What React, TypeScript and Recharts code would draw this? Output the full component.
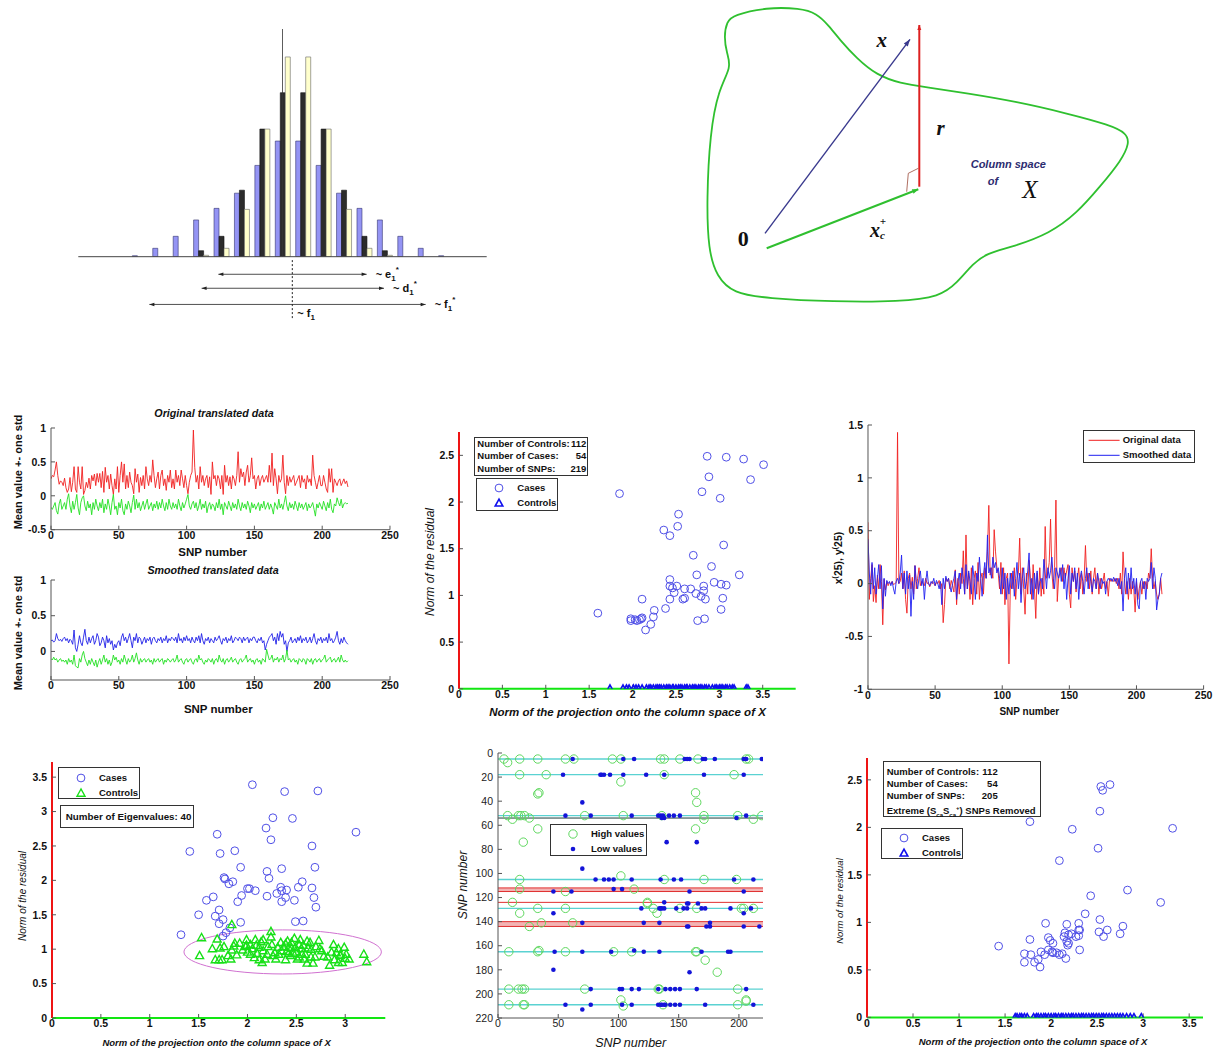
import React from 'react'
import {
  BarChart, Bar, ComposedChart, LineChart, Line, ScatterChart, Scatter,
  XAxis, YAxis, ReferenceLine, ReferenceDot, ReferenceArea,
} from 'recharts'

const FONT = '"Liberation Sans", Arial, Helvetica, sans-serif'
const SERIF = '"Liberation Serif", "DejaVu Serif", Times, serif'

// ---------------- histogram (top left) ----------------
const binIdx = [0, 1, 2, 3, 4, 5, 6, 7, 8, 9, 10, 11, 12, 13, 14, 15, 16, 17, 18, 19, 20]
const blueBars = [0, 0, 0, 0.5, 4.2, 10.2, 18.4, 24.2, 31.8, 45.7, 57.9, 57.9, 45.7, 31.8, 24.2, 18.4, 10.2, 4.2, 0.5, 0, 0]
const blackBars = [0, 0, 0, 0, 0, 0, 3, 10.2, 33.3, 63.9, 82.1, 82.1, 63.9, 33.3, 10.2, 3, 0, 0, 0, 0, 0]
const yellowBars = [0, 0, 0, 0, 0, 0, 0.7, 4.2, 23.7, 63.9, 100, 100, 63.9, 23.7, 4.2, 0.7, 0, 0, 0, 0, 0]
// spans drawn under the axis (bin units, level below zero)
const spanNames = ['e', 'd', 'f']
const spanFrom = [6.86, 6.04, 3.48]
const spanTo = [14.12, 14.97, 17.01]
const spanLevel = [-8.8, -15.8, -23.9]
const centreBin = 10.48

// ---------------- projection diagram (top right) ----------------
const blobX = [33.3, 66.7, 100, 116.7, 128.3, 140, 156.7, 176.7, 200, 226.7, 266.7, 316.7, 366.7, 410, 426.7, 429.3, 421.7, 400, 376.7, 350, 313.3, 286.7, 273.3, 256.7, 240, 200, 133.3, 66.7, 33.3, 16.7, 8.3, 6.7, 10, 18.3, 31.7, 26.7, 24, 26.7]
const blobY = [15, 7.3, 8.3, 13.3, 25, 40, 58.3, 75, 83.3, 87.3, 93.3, 101.7, 113.3, 125, 133.3, 143.3, 160, 186.7, 213.3, 233.3, 246.7, 253.3, 263.3, 283.3, 296.7, 301.7, 301.7, 298.3, 293.3, 276.7, 250, 200, 133.3, 90, 66.7, 53.3, 36.7, 21.7]
const vecX = [[65, 233.3], [210, 39.3]]
const vecR = [[219.3, 186.7], [219.3, 25]]
const vecXc = [[66.7, 248.3], [218.3, 189.3]]
const rightAngle = [[206.7, 191.7], [208.3, 173.3], [218.3, 168.3]]

// ---------------- translated data (middle left) ----------------
const a1Upper = [0.25, 0.3, 0.28, 0.38, 0.5, 0.3, 0.17, 0.22, 0.2, 0.15,
  0.26, 0.12, 0.05, 0.1, 0.27, 0.06, 0.2, 0.43, 0.1, 0.05,
  0.43, 0.2, 0.1, 0.43, 0.02, 0.08, 0.2, 0.12, 0.26, 0.1,
  0.3, 0.22, 0.32, 0.15, 0.33, 0.2, 0.33, 0.12, 0.36, 0.05,
  0.42, 0.2, 0.3, 0.1, 0.32, 0.15, 0.02, 0.25, 0.1, 0.43,
  0.05, 0.3, 0.5, 0.2, 0.47, 0.1, 0.3, 0.12, 0.35, 0.2,
  0.15, 0.03, 0.4, 0.2, 0.32, 0.05, 0.27, 0.15, 0.3, 0.1,
  0.43, 0.25, 0.15, 0.3, 0.2, 0.53, 0.3, 0.12, 0.25, 0.35,
  0.1, 0.3, 0.38, 0.15, 0.25, 0.08, 0.3, 0.2, 0.38, 0.12,
  0.25, 0.1, 0.38, 0.2, 0.3, 0.15, 0.38, 0.25, 0.12, 0.3,
  0.15, 0.03, 0.2, 0.3, 0.35, 0.97, 0.42, 0.2, 0.3, 0.1,
  0.43, 0.2, 0.3, 0.15, 0.25, 0.3, 0.12, 0.28, 0.02, 0.5,
  0.25, 0.3, 0.15, 0.3, 0.25, 0.1, 0.3, 0.02, 0.45, 0.2,
  0.3, 0.15, 0.28, 0.1, 0.3, 0.25, 0.15, 0.3, 0.65, 0.2,
  0.4, 0.28, 0.35, 0.15, 0.35, 0.45, 0.2, 0.3, 0.56, 0.25,
  0.3, 0.1, 0.25, 0.3, 0.15, 0.25, 0.3, 0.2, 0.25, 0.3,
  0.2, 0.45, 0.2, 0.63, 0.15, 0.4, 0.25, 0.03, 0.3, 0.2,
  0.25, 0.6, 0.2, 0.03, 0.3, 0.15, 0.28, 0.2, 0.25, 0.3,
  0.15, 0.2, 0.25, 0.3, 0.12, 0.3, 0.2, 0.25, 0.1, 0.3,
  0.2, 0.25, 0.15, 0.6, 0.3, 0.2, 0.1, 0.2, 0.3, 0.15,
  0.15, 0.3, 0.2, 0.1, 0.05, 0.4, 0.2, 0.4, 0.05, 0.25,
  0.2, 0.15, 0.22, 0.25, 0.15, 0.2, 0.25, 0.18, 0.22, 0.13]
const a1Lower = [-0.17, -0.2, -0.15, -0.1, -0.22, -0.27, -0.12, -0.05, -0.2, -0.15,
  -0.1, -0.2, -0.05, 0.03, -0.15, -0.25, -0.08, -0.2, -0.1, 0.02,
  -0.18, -0.28, -0.1, -0.03, 0, -0.15, -0.22, -0.08, -0.18, -0.12,
  -0.28, -0.1, -0.2, -0.05, -0.15, -0.22, -0.1, -0.18, -0.05, -0.25,
  -0.12, -0.2, -0.05, -0.15, -0.28, -0.1, 0.02, -0.2, -0.15, -0.28,
  -0.1, -0.18, -0.05, -0.22, -0.28, -0.12, -0.2, -0.08, -0.15, -0.25,
  -0.1, 0.01, -0.2, -0.05, -0.18, -0.1, -0.22, -0.15, -0.08, -0.2,
  -0.12, -0.05, -0.2, -0.15, -0.1, -0.22, -0.12, -0.18, -0.08, -0.2,
  -0.1, -0.18, -0.05, -0.15, -0.22, -0.1, -0.2, -0.05, -0.15, -0.2,
  -0.1, -0.18, -0.12, -0.2, -0.05, -0.15, -0.22, -0.1, -0.18, -0.12,
  -0.05, 0.02, -0.15, -0.2, -0.12, -0.08, -0.18, -0.1, -0.22, -0.15,
  -0.05, -0.2, -0.12, -0.18, -0.08, -0.25, -0.15, -0.1, -0.2, -0.12,
  -0.15, -0.22, -0.1, -0.18, -0.05, -0.2, -0.12, -0.28, -0.1, -0.15,
  -0.2, -0.08, -0.15, -0.22, -0.1, -0.18, -0.12, -0.2, -0.05, -0.15,
  -0.22, -0.1, -0.18, -0.12, -0.2, -0.08, -0.15, -0.25, -0.1, -0.18,
  -0.12, -0.2, -0.15, -0.1, -0.22, -0.12, -0.18, -0.08, -0.2, -0.15,
  -0.1, -0.2, -0.12, -0.18, -0.27, -0.1, -0.15, -0.2, -0.05, -0.18,
  -0.12, -0.2, -0.1, 0, -0.15, -0.22, -0.1, -0.18, -0.12, -0.2,
  -0.08, -0.15, -0.22, -0.1, -0.18, -0.12, -0.2, -0.15, -0.1, -0.22,
  -0.12, -0.18, -0.15, -0.1, -0.2, -0.3, -0.12, -0.18, -0.1, -0.15,
  -0.2, -0.08, -0.15, -0.22, -0.1, -0.18, -0.05, -0.2, -0.25, -0.12,
  -0.15, -0.03, -0.1, -0.15, -0.05, -0.18, -0.12, -0.1, -0.12, -0.11]
const a2Upper = [0.15, 0.16, 0.13, 0.15, 0.25, 0.18, 0.15, 0.17, 0.14, 0.18,
  0.2, 0.15, 0.18, 0.12, 0.17, 0.15, 0.1, 0.3, 0.05, 0,
  0.1, 0.22, 0.12, 0.08, 0.2, 0.31, 0.15, 0.1, 0.2, 0.12,
  0.18, 0.22, 0.1, 0.15, 0.25, 0.2, 0.08, 0.12, 0.2, 0.15,
  0.05, 0.22, 0.12, 0.18, 0.1, 0.15, 0.02, 0.1, 0.05, 0.12,
  0.15, 0.08, 0.2, 0.25, 0.15, 0.2, 0.12, 0.18, 0.25, 0.15,
  0.05, 0.2, 0.15, 0.25, 0.12, 0.2, 0.18, 0.1, 0.15, 0.2,
  0.12, 0.18, 0.15, 0.2, 0.1, 0.18, 0.2, 0.15, 0.12, 0.18,
  0.15, 0.2, 0.12, 0.18, 0.15, 0.22, 0.12, 0.18, 0.15, 0.2,
  0.18, 0.15, 0.2, 0.12, 0.25, 0.15, 0.18, 0.12, 0.2, 0.15,
  0.22, 0.15, 0.18, 0.12, 0.2, 0.15, 0.12, 0.2, 0.15, 0.22,
  0.12, 0.25, 0.15, 0.1, 0.18, 0.15, 0.2, 0.12, 0.18, 0.15,
  0.12, 0.2, 0.15, 0.18, 0.22, 0.15, 0.1, 0.18, 0.15, 0.2,
  0.12, 0.18, 0.15, 0.22, 0.12, 0.15, 0.2, 0.18, 0.15, 0.2,
  0.18, 0.12, 0.2, 0.15, 0.18, 0.2, 0.12, 0.18, 0.15, 0.2,
  0.2, 0.15, 0.12, 0.18, 0.15, 0.2, 0.12, 0.15, 0.02, 0.1,
  0.15, 0.2, 0.22, 0.25, 0.15, 0.2, 0.1, 0.25, 0.15, 0.28,
  0.2, 0.25, 0.1, 0.15, 0, 0.12, 0.15, 0.2, 0.12, 0.15,
  0.18, 0.12, 0.2, 0.15, 0.22, 0.12, 0.18, 0.15, 0.2, 0.12,
  0.15, 0.2, 0.12, 0.18, 0.25, 0.15, 0.1, 0.18, 0.15, 0.2,
  0.12, 0.18, 0.15, 0.2, 0.12, 0.25, 0.15, 0.18, 0.12, 0.15,
  0.2, 0.28, 0.15, 0.1, 0.18, 0.12, 0.2, 0.15, 0.12, 0.1]
const a2Lower = [-0.1, -0.12, -0.08, -0.12, -0.1, -0.15, -0.12, -0.1, -0.14, -0.12,
  -0.15, -0.12, -0.18, -0.1, -0.15, -0.12, -0.18, -0.05, -0.2, -0.22,
  -0.23, -0.1, -0.15, -0.05, 0, -0.1, -0.15, -0.2, -0.12, -0.18,
  -0.1, -0.15, -0.2, -0.12, -0.22, -0.15, -0.1, -0.18, -0.12, -0.05,
  -0.15, -0.1, -0.18, -0.12, -0.2, -0.15, -0.05, -0.12, -0.08, -0.15,
  -0.12, -0.18, -0.1, -0.15, -0.05, -0.12, -0.18, -0.1, -0.15, -0.12,
  -0.05, -0.15, -0.1, -0.02, -0.12, -0.18, -0.1, -0.15, -0.12, -0.1,
  -0.15, -0.12, -0.1, -0.15, -0.12, -0.18, -0.1, -0.15, -0.12, -0.1,
  -0.15, -0.12, -0.1, -0.18, -0.12, -0.15, -0.1, -0.12, -0.15, -0.12,
  -0.1, -0.15, -0.12, -0.05, -0.15, -0.12, -0.1, -0.15, -0.18, -0.12,
  -0.1, -0.15, -0.12, -0.1, -0.15, -0.18, -0.12, -0.1, -0.15, -0.05,
  -0.12, -0.1, -0.15, -0.18, -0.12, -0.15, -0.1, -0.12, -0.15, -0.1,
  -0.18, -0.12, -0.1, -0.15, -0.05, -0.12, -0.15, -0.1, -0.18, -0.12,
  -0.1, -0.15, -0.12, -0.08, -0.15, -0.12, -0.1, -0.15, -0.18, -0.12,
  -0.1, -0.15, -0.12, -0.1, -0.05, -0.15, -0.12, -0.1, -0.15, -0.12,
  -0.18, -0.12, -0.1, -0.15, -0.12, -0.18, -0.1, -0.12, -0.15, 0.03,
  -0.05, -0.12, -0.1, -0.05, -0.15, -0.1, -0.12, -0.08, -0.15, -0.1,
  -0.12, -0.05, -0.15, -0.1, 0.02, -0.12, -0.1, -0.15, -0.12, -0.1,
  -0.15, -0.12, -0.18, -0.1, -0.12, -0.15, -0.1, -0.12, -0.18, -0.1,
  -0.12, -0.15, -0.1, -0.18, -0.12, -0.1, -0.15, -0.12, -0.1, -0.15,
  -0.12, -0.1, -0.05, -0.15, -0.12, -0.1, -0.08, -0.15, -0.12, -0.1,
  -0.15, -0.12, -0.08, -0.15, -0.05, -0.12, -0.15, -0.12, -0.15, -0.13]

// ---------------- original vs smoothed (middle right) ----------------
const origData = [0.58, -0.15, 0.05, 0.18, -0.17, -0.02, -0.18, 0.08, -0.05, 0.18,
  0.02, -0.39, 0.04, -0.06, 0.02, -0.02, 0.01, 0, 0.02, -0.01,
  0, 0.01, 1.43, 0, 0.02, 0.1, -0.05, 0.12, -0.15, -0.28,
  0.05, 0.1, -0.05, 0.06, -0.1, 0.17, -0.05, 0.05, 0.15, -0.02,
  0.02, 0, -0.02, 0.05, 0, 0.01, -0.03, 0, 0.02, 0,
  -0.02, 0.01, 0, 0.03, -0.05, 0, -0.37, -0.2, 0.05, 0.02,
  0.05, -0.05, 0.03, -0.02, -0.08, 0.13, -0.2, 0.05, -0.1, 0.1,
  0, 0.31, -0.1, 0.46, -0.05, 0.1, -0.15, 0.15, -0.2, 0.05,
  0.12, -0.1, 0.2, -0.15, 0.05, 0.1, -0.1, 0.15, 0.05, 0.3,
  0.74, 0.08, 0.15, 0.05, 0.51, 0.3, 0.15, 0.1, -0.05, 0.2,
  -0.1, 0.15, -0.2, 0.05, 0.1, -0.76, -0.05, 0.1, -0.05, 0.15,
  -0.15, 0.05, 0.1, 0.43, -0.1, 0.15, -0.05, -0.29, 0.1, -0.1,
  0.22, 0.05, -0.15, 0.18, -0.05, -0.33, 0.1, -0.1, 0.15, -0.12,
  0.05, -0.1, 0.54, 0.05, 0.1, 0.2, 0.61, 0.1, -0.05, 0.15,
  0.79, -0.17, 0.05, 0.1, 0.15, 0.02, 0.15, 0.05, 0.12, 0.18,
  -0.1, -0.23, 0.15, 0.02, 0.12, -0.08, 0.05, 0.15, -0.05, 0.1,
  -0.1, 0.05, 0.36, 0.02, 0.1, -0.05, 0.12, -0.1, 0.05, 0.15,
  -0.05, 0.1, -0.1, 0.05, -0.05, 0.02, 0.1, -0.05, 0.02, -0.12,
  0.05, 0.02, 0.04, 0.02, 0.05, 0, 0.05, -0.05, 0.1, -0.1,
  0.3, 0.05, -0.1, 0.02, -0.15, 0.05, -0.1, 0.02, -0.05, -0.27,
  0.02, -0.15, -0.05, 0.02, -0.1, 0.02, -0.05, 0.02, -0.05, 0.1,
  0.05, 0.33, 0.05, -0.05, 0.02, -0.1, -0.15, -0.1, 0.05, -0.1]
const smoothData = [0.42, 0.1, -0.1, 0.2, -0.05, 0.15, -0.1, 0.05, 0.18, -0.05,
  0.17, -0.24, 0.05, -0.12, 0.03, 0, 0.02, -0.02, 0.02, -0.05,
  -0.1, 0.02, 0.05, 0, 0.1, 0.27, -0.05, 0.1, -0.1, 0.12,
  -0.05, 0.08, -0.31, 0.02, -0.15, 0.17, 0.02, -0.05, 0.05, 0.12,
  -0.02, 0.05, -0.15, 0.02, 0.12, 0, -0.02, 0.02, 0, 0.05,
  -0.02, 0.03, 0, -0.05, 0.02, -0.2, 0.05, -0.05, 0.07, 0.02,
  0.05, -0.03, -0.08, 0, 0.05, 0.12, -0.15, 0.02, 0.1, -0.05,
  0.15, 0.05, -0.1, 0.18, -0.05, 0.12, 0.02, -0.1, 0.17, 0.05,
  -0.15, 0.1, 0.02, 0.25, 0.05, -0.12, 0.08, 0.2, 0.05, 0.46,
  0.1, 0.15, 0.05, 0.25, 0.15, 0.2, 0.1, 0.15, 0.05, -0.1,
  0.15, -0.05, 0.1, -0.15, 0.05, -0.1, 0.1, -0.05, 0.12, -0.12,
  0.05, 0.2, -0.05, 0.1, -0.18, 0.05, 0.15, -0.05, 0.02, 0.12,
  0.29, -0.1, 0.05, -0.15, 0.1, -0.05, 0.12, -0.1, 0.02, 0.05,
  -0.05, 0.23, 0.1, -0.05, 0.15, 0.05, 0.12, 0.25, 0.05, -0.05,
  0.15, 0.1, 0.05, 0.15, 0.02, 0.18, -0.05, 0.1, -0.15, 0.05,
  0.17, -0.1, 0.1, 0.02, 0.15, -0.05, 0.1, -0.15, 0.05, 0.12,
  0.02, -0.1, 0.05, 0.15, -0.05, 0.1, 0.02, -0.08, 0.05, 0.02,
  -0.05, 0.1, 0.02, -0.05, 0.05, 0, 0.02, -0.1, 0.02, 0.05,
  0.03, 0.05, 0.02, 0.06, 0.02, 0.05, -0.02, 0.05, -0.05, 0.02,
  -0.26, 0.05, 0.15, -0.1, 0.1, -0.05, 0.15, -0.05, 0.05, -0.1,
  0.05, -0.2, -0.24, 0.02, 0.05, -0.05, 0.02, -0.15, 0.05, 0.02,
  0.05, 0.2, -0.05, 0.15, 0.05, -0.25, -0.15, -0.1, 0.05, 0.1]

// ---------------- residual vs projection, 219 SNPs ----------------
const casesB = [[1.6, 0.81], [1.85, 2.09], [2.36, 1.7], [2.43, 1.64], [2.53, 1.87], [2.52, 1.74], [2.86, 2.49], [3.08, 2.48], [3.28, 2.46], [3.51, 2.4], [2.88, 2.27], [3.36, 2.24], [2.8, 2.11], [3.01, 2.04], [3.05, 1.54], [2.7, 1.43], [2.91, 1.31], [3.23, 1.22], [2.74, 1.22], [2.43, 1.17], [2.43, 1.1], [2.46, 1.08], [2.51, 1.1], [2.48, 1.03], [2.6, 1.07], [2.67, 1.07], [2.82, 1.1], [2.82, 1.05], [2.73, 1.02], [2.79, 0.99], [2.84, 0.96], [2.94, 1.14], [3.02, 1.12], [3.08, 1.11], [3.04, 0.97], [3.02, 0.85], [2.58, 0.96], [2.6, 0.97], [2.43, 0.96], [2.11, 0.96], [2.38, 0.86], [2.25, 0.84], [2.24, 0.77], [2.21, 0.69], [2.15, 0.63], [2.11, 0.76], [2.08, 0.74], [2.03, 0.74], [1.98, 0.75], [1.98, 0.73], [2.05, 0.73], [2.75, 0.73], [2.83, 0.75], [2.1, 0.75]]
const controlsB = [1.74, 1.89, 1.93, 1.96, 2.01, 2.04, 2.07, 2.11, 2.16, 2.19, 2.21, 2.24, 2.27, 2.29, 2.31, 2.33, 2.36, 2.39, 2.41, 2.43, 2.46, 2.47, 2.5, 2.53, 2.55, 2.57, 2.6, 2.62, 2.63, 2.66, 2.69, 2.71, 2.73, 2.76, 2.78, 2.8, 2.83, 2.85, 2.88, 2.92, 2.95, 2.97, 3.0, 3.02, 3.04, 3.07, 3.09, 3.12, 3.15, 3.17, 3.31, 3.33]

// ---------------- 40 eigenvalues (bottom left) ----------------
const casesD = [[2.05, 3.39], [2.38, 3.29], [2.72, 3.3], [3.11, 2.7], [2.26, 2.91], [2.46, 2.9], [2.19, 2.76], [2.24, 2.59], [1.69, 2.67], [1.41, 2.42], [1.72, 2.39], [1.87, 2.43], [2.66, 2.5], [2.69, 2.19], [1.93, 2.19], [2.2, 2.13], [2.22, 2.03], [2.35, 2.17], [1.76, 2.04], [1.77, 2.02], [1.81, 1.95], [1.85, 1.98], [2.0, 1.88], [2.02, 1.88], [2.08, 1.85], [1.94, 1.78], [1.9, 1.69], [2.34, 1.9], [2.35, 1.85], [2.4, 1.86], [2.3, 1.81], [2.39, 1.75], [2.35, 1.69], [2.2, 1.77], [2.52, 1.9], [2.56, 1.98], [2.48, 1.71], [2.66, 1.89], [2.68, 1.75], [2.7, 1.61], [1.65, 1.76], [1.58, 1.71], [1.71, 1.57], [1.5, 1.5], [1.67, 1.48], [1.75, 1.43], [1.71, 1.37], [1.93, 1.39], [2.49, 1.4], [2.57, 1.41], [1.78, 1.24], [1.75, 1.19], [1.82, 1.31], [1.32, 1.21]]
const controlsD = [[1.53, 1.17], [1.51, 0.91], [1.69, 1.15], [1.64, 1.01], [1.72, 1.02], [1.76, 1.04], [1.71, 0.85], [1.74, 0.85], [1.84, 1.36], [1.84, 0.99], [1.83, 0.86], [1.87, 1.09], [1.89, 0.92], [1.92, 1.09], [1.98, 1.04], [1.99, 1.14], [2.0, 0.96], [2.03, 1.07], [2.05, 1.01], [2.08, 1.14], [2.07, 0.88], [2.09, 1.06], [2.12, 0.85], [2.14, 1.11], [2.15, 0.81], [2.16, 0.98], [2.18, 0.86], [2.21, 1.04], [2.24, 1.26], [2.24, 1.18], [2.25, 1.07], [2.28, 0.95], [2.29, 0.86], [2.31, 1.03], [2.34, 1.1], [2.35, 0.98], [2.39, 1.08], [2.4, 0.97], [2.39, 0.85], [2.42, 1.03], [2.44, 0.91], [2.45, 1.1], [2.48, 1.16], [2.49, 1.03], [2.5, 0.96], [2.53, 1.07], [2.54, 1.14], [2.55, 1.01], [2.57, 1.06], [2.59, 0.93], [2.61, 0.8], [2.61, 1.12], [2.64, 1.1], [2.65, 1.0], [2.67, 0.8], [2.69, 0.89], [2.73, 1.13], [2.76, 0.98], [2.82, 0.89], [2.84, 0.77], [2.86, 0.96], [2.88, 1.07], [2.89, 0.85], [2.93, 1.01], [2.93, 0.81], [2.95, 0.92], [2.97, 0.81], [2.99, 1.03], [3.01, 0.93], [3.04, 0.86], [3.19, 0.93], [3.22, 0.82], [1.95, 0.99], [2.03, 0.93], [2.1, 0.94], [2.32, 0.93], [2.37, 1.04], [2.47, 0.94], [2.51, 0.86], [2.58, 0.86], [2.62, 1.02], [2.7, 1.04], [2.78, 0.9], [1.99, 1.06], [2.16, 1.14], [2.2, 0.93], [2.41, 1.12], [2.56, 0.93], [2.65, 0.89], [2.91, 0.95], [3.0, 0.87], [1.86, 1.05], [2.12, 1.03], [2.26, 0.91], [2.45, 1.02], [2.53, 0.89], [2.42, 0.94], [2.74, 1.01], [2.95, 0.91], [1.67, 0.85], [1.8, 0.91]]
// control cluster outline: centre and half-widths
const clusterCentre = [2.36, 0.96]
const clusterHalf = [1.01, 0.32]

// ---------------- SNP x SNP (bottom middle) ----------------
const highPts = [[5, 5], [8, 8], [18, 5], [33, 5], [56, 5], [63, 5], [95, 5], [102, 5], [135, 5], [138, 5], [151, 5], [166, 5], [206, 5], [208, 5],
  [18, 18], [40, 18], [138, 18], [196, 18], [102, 24], [33, 34], [34, 33], [164, 33], [165, 41],
  [8, 52], [12, 55], [17, 52], [19, 52], [22, 52], [26, 54], [72, 52], [104, 52], [136, 52], [171, 52], [171, 55], [199, 52], [212, 55], [219, 52],
  [33, 63], [164, 63], [21, 74], [18, 105], [102, 102], [138, 105], [171, 105], [198, 105], [18, 113], [56, 115], [113, 113],
  [12, 124], [124, 124], [124, 125], [33, 129], [56, 129], [129, 129], [151, 129], [165, 129], [202, 129], [204, 129], [212, 129], [132, 133], [18, 133],
  [36, 141], [62, 141], [26, 144], [9, 165], [33, 165], [34, 164], [56, 165], [96, 165], [111, 165], [164, 165], [165, 165], [172, 172], [182, 182],
  [9, 196], [17, 196], [20, 196], [22, 196], [72, 196], [133, 196], [134, 196], [199, 196],
  [9, 209], [21, 209], [22, 209], [102, 205], [104, 210], [137, 209], [199, 209], [206, 206], [206, 205]]
const lowPts = [[62, 5], [104, 5], [113, 5], [155, 5], [157, 5], [159, 5], [170, 5], [172, 5], [180, 5], [204, 5], [206, 5], [219, 5],
  [54, 18], [85, 18], [86, 18], [88, 18], [93, 18], [104, 18], [123, 18], [138, 18], [171, 18], [204, 18], [70, 41],
  [56, 52], [77, 52], [111, 52], [133, 52], [135, 52], [137, 52], [138, 54], [142, 52], [146, 52], [151, 52], [198, 54], [206, 52], [136, 54],
  [140, 74], [165, 74], [70, 96], [81, 105], [88, 105], [92, 105], [96, 105], [111, 105], [135, 105], [146, 105], [152, 105], [196, 105], [212, 105],
  [46, 115], [61, 115], [96, 113], [103, 113], [159, 115], [204, 115], [138, 124], [157, 125], [158, 125], [166, 125],
  [119, 129], [134, 129], [135, 129], [136, 129], [138, 129], [148, 129], [154, 129], [157, 129], [169, 129], [172, 129], [193, 129], [210, 129], [204, 133], [46, 133],
  [70, 141], [121, 141], [134, 141], [157, 144], [158, 144], [173, 144], [176, 141], [176, 144], [204, 144], [217, 144],
  [47, 165], [70, 165], [94, 165], [113, 164], [121, 165], [134, 165], [169, 165], [191, 165], [193, 165], [46, 180], [159, 182],
  [77, 196], [101, 196], [103, 196], [111, 196], [117, 196], [133, 196], [139, 196], [143, 196], [147, 196], [151, 196], [165, 196], [206, 196],
  [56, 209], [70, 213], [77, 209], [103, 209], [111, 209], [133, 209], [135, 209], [136, 209], [138, 209], [139, 209], [143, 209], [147, 209], [151, 209], [172, 209], [212, 209]]
const cyanRows = [5, 18, 52, 105, 129, 165, 196, 209]
const darkRows = [54]
const redRows = [112, 115, 124, 140, 144]
const pinkBands = [[112, 115], [140, 144]]

// ---------------- extreme SNPs removed (bottom right) ----------------
const casesF = [[1.43, 0.75], [1.77, 2.06], [2.23, 1.98], [3.32, 1.99], [2.09, 1.65], [2.54, 2.43], [2.56, 2.39], [2.64, 2.45], [2.53, 2.17], [2.51, 1.78], [2.83, 1.34], [3.19, 1.21], [2.43, 1.28], [2.37, 1.09], [2.53, 1.03], [2.78, 0.96], [2.75, 0.88], [2.61, 0.92], [2.52, 0.9], [2.57, 0.85], [2.3, 0.99], [2.3, 0.92], [2.31, 0.92], [2.3, 0.86], [2.31, 0.71], [2.17, 0.98], [2.15, 0.89], [2.19, 0.87], [2.22, 0.88], [2.17, 0.8], [2.18, 0.76], [2.19, 0.78], [1.94, 0.99], [1.97, 0.84], [1.99, 0.81], [2.02, 0.78], [2.01, 0.69], [2.02, 0.68], [1.77, 0.82], [1.71, 0.67], [1.78, 0.66], [1.71, 0.58], [1.82, 0.58], [1.86, 0.61], [1.88, 0.53], [1.89, 0.69], [1.93, 0.66], [2.09, 0.66], [2.12, 0.67], [2.16, 0.62], [1.97, 0.71], [2.14, 0.85], [2.27, 0.85], [2.06, 0.68]]
const controlsF = [1.61, 1.63, 1.66, 1.68, 1.71, 1.74, 1.81, 1.84, 1.86, 1.89, 1.92, 1.94, 1.97, 2.0, 2.03, 2.05, 2.08, 2.11, 2.13, 2.16, 2.19, 2.22, 2.24, 2.27, 2.3, 2.33, 2.35, 2.38, 2.41, 2.44, 2.46, 2.49, 2.52, 2.55, 2.57, 2.6, 2.63, 2.66, 2.69, 2.72, 2.75, 2.78, 2.82, 2.86, 2.9, 2.98]

// ---------------- tick labels ----------------
const snpTicks = [0, 50, 100, 150, 200, 250]
const normTicks = [0, 0.5, 1, 1.5, 2, 2.5, 3, 3.5]
const a1YTicks = [-0.5, 0, 0.5, 1]
const a2YTicks = [0, 0.5, 1]
const cYTicks = [-1, -0.5, 0, 0.5, 1, 1.5]
const resYTicks = [0, 0.5, 1, 1.5, 2, 2.5]
const resYTicksD = [0, 0.5, 1, 1.5, 2, 2.5, 3, 3.5]
const normTicksD = [0, 0.5, 1, 1.5, 2, 2.5, 3]
const snpTicksE = [0, 50, 100, 150, 200]
const snpRowTicks = [0, 20, 40, 60, 80, 100, 120, 140, 160, 180, 200, 220]

// ---------------- helpers ----------------
const pairs = (a: number[][]) => a.map(([x, y]) => ({ x, y }))
const onAxis = (a: number[]) => a.map((x) => ({ x, y: 0 }))

type Rect = { x: number; y: number; w: number; h: number }
const PAD = { l: 50, r: 16, t: 8, b: 30 }
const at = (r: Rect): React.CSSProperties => ({ position: 'absolute', left: r.x - PAD.l, top: r.y - PAD.t })
const cw = (r: Rect) => r.w + PAD.l + PAD.r
const ch = (r: Rect) => r.h + PAD.t + PAD.b
const MARGIN = { top: PAD.t, right: PAD.r, left: 0, bottom: 0 }

const FRAME = '#555'
const tickBold = { fontSize: 10.5, fontWeight: 700, fill: '#111', fontFamily: FONT }
const tickPlain = { fontSize: 10.5, fill: '#222', fontFamily: FONT }

function frameAxes(o: {
  xDomain: number[]; xTicks: number[]; yDomain: number[]; yTicks: number[]
  xKey: string; yKey?: string; reversed?: boolean; tick?: any; xLine?: any; yLine?: any
}) {
  const line = { stroke: FRAME, strokeWidth: 1 }
  const tick = o.tick ?? tickBold
  return [
    <XAxis key="xt" xAxisId="top" orientation="top" type="number" domain={o.xDomain} ticks={o.xTicks} allowDataOverflow
      interval={0} height={0} tickSize={-4} axisLine={line} tickLine={line} tick={false} />,
    <YAxis key="yr" yAxisId="right" orientation="right" type="number" domain={o.yDomain} ticks={o.yTicks} allowDataOverflow
      interval={0} width={0} tickSize={-4} reversed={o.reversed} axisLine={line} tickLine={line} tick={false} />,
    <XAxis key="xb" type="number" dataKey={o.xKey} domain={o.xDomain} ticks={o.xTicks} allowDataOverflow interval={0}
      height={PAD.b} tickSize={-4} tickMargin={6} axisLine={o.xLine ?? line} tickLine={line} tick={tick} />,
    <YAxis key="yl" type="number" dataKey={o.yKey} domain={o.yDomain} ticks={o.yTicks} allowDataOverflow interval={0}
      width={PAD.l} tickSize={-4} tickMargin={9} reversed={o.reversed} axisLine={o.yLine ?? line} tickLine={line} tick={tick} />,
  ]
}

const head = (fx: number, fy: number, tx: number, ty: number, len: number, hw: number) => {
  const a = Math.atan2(ty - fy, tx - fx)
  const bx = tx - len * Math.cos(a)
  const by = ty - len * Math.sin(a)
  const px = -Math.sin(a) * hw
  const py = Math.cos(a) * hw
  return `${tx},${ty} ${bx + px},${by + py} ${bx - px},${by - py}`
}

const tri = (cx: number, cy: number, s: number) => `${cx},${cy - s} ${cx - s},${cy + s * 0.8} ${cx + s},${cy + s * 0.8}`

const caseMark = (p: any) => <circle cx={p.cx} cy={p.cy} r={3.9} fill="none" stroke="#4f4fe6" strokeWidth={1} />
const blueTri = (p: any) => <polygon points={tri(p.cx, p.cy, 3.8)} fill="none" stroke="#1010ee" strokeWidth={1.6} />
const greenTri = (p: any) => <polygon points={tri(p.cx, p.cy, 4)} fill="none" stroke="#18e018" strokeWidth={1.4} />
const highMark = (p: any) => <circle cx={p.cx} cy={p.cy} r={4.2} fill="none" stroke="#5fd85f" strokeWidth={1} />
const lowMark = (p: any) => <circle cx={p.cx} cy={p.cy} r={2.3} fill="#1414d8" />

function Txt(props: { x: number; y: number; size?: number; bold?: boolean; italic?: boolean; rot?: number; color?: string; family?: string; children: React.ReactNode }) {
  const { x, y, size = 11, bold, italic, rot, color = '#111', family = FONT } = props
  return (
    <div style={{
      position: 'absolute', left: x, top: y, whiteSpace: 'nowrap', lineHeight: 1,
      transform: `translate(-50%, -50%)${rot ? ` rotate(${rot}deg)` : ''}`,
      fontSize: size, fontWeight: bold ? 700 : 400, fontStyle: italic ? 'italic' : 'normal', fontFamily: family, color,
    }}>{props.children}</div>
  )
}

function FrameBox(props: { left: number; top: number; w: number; h: number; children: React.ReactNode }) {
  return (
    <div style={{
      position: 'absolute', left: props.left, top: props.top, width: props.w, height: props.h, boxSizing: 'border-box',
      border: '1px solid #333', background: '#fff', fontFamily: FONT, fontWeight: 700, fontSize: 9.5, color: '#111',
    }}>{props.children}</div>
  )
}

function LegendBox(props: { left: number; top: number; w: number; h: number; markX: number; textX: number; rows: number[]; items: { mark: React.ReactNode; label: string }[] }) {
  return (
    <FrameBox left={props.left} top={props.top} w={props.w} h={props.h}>
      {props.items.map((it, i) => (
        <React.Fragment key={it.label}>
          <svg width={34} height={12} style={{ position: 'absolute', left: props.markX - 17, top: props.rows[i] - 6 }}>{it.mark}</svg>
          <div style={{ position: 'absolute', left: props.textX, top: props.rows[i] - 6, lineHeight: '12px' }}>{it.label}</div>
        </React.Fragment>
      ))}
    </FrameBox>
  )
}

function InfoRows(props: { rows: { label: React.ReactNode; value?: string }[]; labelW: number; valueW: number; pitch: number; top: number; left: number }) {
  return (
    <>
      {props.rows.map((r, i) => (
        <div key={i} style={{ position: 'absolute', left: props.left, top: props.top + i * props.pitch, display: 'flex', lineHeight: `${props.pitch}px`, whiteSpace: 'nowrap' }}>
          <span style={{ width: props.labelW }}>{r.label}</span>
          {r.value !== undefined && <span style={{ width: props.valueW, textAlign: 'right' }}>{r.value}</span>}
        </div>
      ))}
    </>
  )
}

const circleIcon = <circle cx={17} cy={6} r={3.9} fill="none" stroke="#4f4fe6" strokeWidth={1} />
const blueTriIcon = <polygon points={tri(17, 6, 3.8)} fill="none" stroke="#1010ee" strokeWidth={1.6} />
const greenTriIcon = <polygon points={tri(17, 6, 4)} fill="none" stroke="#18e018" strokeWidth={1.4} />
const highIcon = <circle cx={17} cy={6} r={4.2} fill="none" stroke="#5fd85f" strokeWidth={1} />
const lowIcon = <circle cx={17} cy={6} r={2.3} fill="#1414d8" />

// ---------------- panels ----------------
const histRows = binIdx.map((b, i) => ({ bin: b, blue: blueBars[i], black: blackBars[i], yellow: yellowBars[i] }))

function spanShape(name: string) {
  return (p: any) => (
    <g>
      <line x1={p.x1} y1={p.y1} x2={p.x2} y2={p.y2} stroke="#222" strokeWidth={0.8} />
      <polygon points={head(p.x2, p.y2, p.x1, p.y1, 5, 1.8)} fill="#222" />
      <polygon points={head(p.x1, p.y1, p.x2, p.y2, 5, 1.8)} fill="#222" />
      <text x={p.x2 + 9} y={p.y2 + 4} fontSize={11} fontWeight={700} fontFamily={FONT} fill="#111">
        {'~ ' + name}<tspan fontSize={8} dy={3}>1</tspan><tspan fontSize={8} dy={-9}>*</tspan>
      </text>
    </g>
  )
}

const centreShape = (p: any) => (
  <g>
    <line x1={p.x1} y1={p.y1} x2={p.x2} y2={p.y2} stroke="#222" strokeWidth={1} strokeDasharray="2 2" />
    <text x={p.x2 + 5} y={p.y2 - 3} fontSize={11} fontWeight={700} fontFamily={FONT} fill="#111">
      ~ f<tspan fontSize={8} dy={3}>1</tspan>
    </text>
  </g>
)

function Histogram() {
  return (
    <div style={{ position: 'absolute', left: 60, top: 0 }}>
      <BarChart width={440} height={330} data={histRows} margin={{ top: 29, right: 13.3, left: 18.3, bottom: 63.3 }} barGap={0} barSize={5}>
        <XAxis type="number" dataKey="bin" domain={[0, 20]} ticks={binIdx} interval={0} allowDataOverflow tick={false} tickSize={3}
          height={10} axisLine={{ stroke: '#444' }} tickLine={{ stroke: '#444' }} />
        <YAxis hide type="number" domain={[0, 114]} allowDataOverflow />
        <Bar dataKey="blue" fill="#9494f4" stroke="#34346e" strokeWidth={0.6} isAnimationActive={false} />
        <Bar dataKey="black" fill="#2c2c2c" stroke="#111" strokeWidth={0.6} isAnimationActive={false} />
        <Bar dataKey="yellow" fill="#ffffcc" stroke="#666" strokeWidth={0.6} isAnimationActive={false} />
        <ReferenceLine x={10} stroke="#333" strokeWidth={0.8} />
        {spanNames.map((n, i) => (
          <ReferenceLine key={n} segment={[{ x: spanFrom[i], y: spanLevel[i] }, { x: spanTo[i], y: spanLevel[i] }]} ifOverflow="visible" shape={spanShape(n)} />
        ))}
        <ReferenceLine segment={[{ x: centreBin, y: -1.7 }, { x: centreBin, y: -31.7 }]} ifOverflow="visible" shape={centreShape} />
      </BarChart>
    </div>
  )
}

function arrowShape(color: string, width: number, len: number, hw: number) {
  return (p: any) => (
    <g>
      <line x1={p.x1} y1={p.y1} x2={p.x2} y2={p.y2} stroke={color} strokeWidth={width} />
      <polygon points={head(p.x1, p.y1, p.x2, p.y2, len, hw)} fill={color} />
    </g>
  )
}
const plainShape = (color: string, width: number) => (p: any) => <line x1={p.x1} y1={p.y1} x2={p.x2} y2={p.y2} stroke={color} strokeWidth={width} />
const pt = (a: number[]) => ({ x: a[0], y: a[1] })

const textShape = (content: React.ReactNode, style: any) => (p: any) => (
  <text x={p.cx} y={p.cy} textAnchor="middle" dominantBaseline="central" {...style}>{content}</text>
)

function Diagram() {
  const blob = blobX.map((x, i) => ({ x, y: blobY[i] }))
  const serifBI = { fontFamily: SERIF, fontStyle: 'italic', fontWeight: 700, fill: '#111' }
  return (
    <div style={{ position: 'absolute', left: 700, top: 0 }}>
      <ComposedChart width={440} height={310} margin={{ top: 0, right: 0, left: 0, bottom: 0 }}>
        <XAxis hide type="number" dataKey="x" domain={[0, 440]} allowDataOverflow />
        <YAxis hide type="number" domain={[0, 310]} reversed allowDataOverflow />
        <Line data={blob} dataKey="y" type="basisClosed" stroke="#2fc02f" strokeWidth={1.8} dot={false} isAnimationActive={false} />
        <ReferenceLine segment={[pt(vecX[0]), pt(vecX[1])]} shape={arrowShape('#3a3a8e', 1.4, 7, 2.5)} />
        <ReferenceLine segment={[pt(vecR[0]), pt(vecR[1])]} shape={arrowShape('#dd2020', 2, 5, 2)} />
        <ReferenceLine segment={[pt(vecXc[0]), pt(vecXc[1])]} shape={arrowShape('#2fbf2f', 2, 6, 2.5)} />
        <ReferenceLine segment={[pt(rightAngle[0]), pt(rightAngle[1])]} shape={plainShape('#9a4a3a', 0.8)} />
        <ReferenceLine segment={[pt(rightAngle[1]), pt(rightAngle[2])]} shape={plainShape('#9a4a3a', 0.8)} />
        <ReferenceDot x={181.7} y={40} r={0} shape={textShape('x', { ...serifBI, fontSize: 21 })} />
        <ReferenceDot x={240.7} y={128.3} r={0} shape={textShape('r', { ...serifBI, fontSize: 21 })} />
        <ReferenceDot x={43.3} y={238.3} r={0} shape={textShape('0', { fontFamily: SERIF, fontWeight: 700, fontSize: 22, fill: '#111' })} />
        <ReferenceDot x={178} y={230} r={0} shape={textShape(
          <>x<tspan fontSize={11} dy={5}>c</tspan><tspan fontSize={11} dx={-5} dy={-14}>+</tspan></>,
          { ...serifBI, fontSize: 20 })} />
        <ReferenceDot x={308.3} y={164} r={0} shape={textShape('Column space', { fontFamily: FONT, fontStyle: 'italic', fontWeight: 700, fontSize: 11, fill: '#2c2c70' })} />
        <ReferenceDot x={293} y={181} r={0} shape={textShape('of', { fontFamily: FONT, fontStyle: 'italic', fontWeight: 700, fontSize: 11, fill: '#2c2c70' })} />
        <ReferenceDot x={330} y={189} r={0} shape={textShape('X', { fontFamily: SERIF, fontStyle: 'italic', fontSize: 25, fill: '#111' })} />
      </ComposedChart>
    </div>
  )
}

const rA1: Rect = { x: 51, y: 428.3, w: 339, h: 101.7 }
const rA2: Rect = { x: 51, y: 580, w: 339, h: 100 }
const rB: Rect = { x: 459, y: 431.7, w: 336.7, h: 256.8 }
const rC: Rect = { x: 867.7, y: 425, w: 335.6, h: 264.3 }
const rD: Rect = { x: 51.7, y: 761.7, w: 333.3, h: 256 }
const rE: Rect = { x: 498.3, y: 753.3, w: 265, h: 265 }
const rF: Rect = { x: 867.3, y: 758.3, w: 336, h: 259.4 }

function TwoLines(props: { r: Rect; upper: number[]; lower: number[]; upperColor: string; yDomain: number[]; yTicks: number[] }) {
  const rows = props.upper.map((v, i) => ({ snp: i, hi: v, lo: props.lower[i] }))
  return (
    <div style={at(props.r)}>
      <LineChart width={cw(props.r)} height={ch(props.r)} data={rows} margin={MARGIN}>
        {frameAxes({ xDomain: [0, 250], xTicks: snpTicks, yDomain: props.yDomain, yTicks: props.yTicks, xKey: 'snp' })}
        <Line dataKey="hi" type="linear" stroke={props.upperColor} strokeWidth={0.9} dot={false} isAnimationActive={false} />
        <Line dataKey="lo" type="linear" stroke="#22e022" strokeWidth={0.9} dot={false} isAnimationActive={false} />
      </LineChart>
    </div>
  )
}

function Smoothing() {
  const rows = origData.map((v, i) => ({ snp: i, orig: v, smooth: smoothData[i] }))
  return (
    <div style={at(rC)}>
      <LineChart width={cw(rC)} height={ch(rC)} data={rows} margin={MARGIN}>
        {frameAxes({ xDomain: [0, 250], xTicks: snpTicks, yDomain: [-1, 1.5], yTicks: cYTicks, xKey: 'snp' })}
        <Line dataKey="orig" type="linear" stroke="#f02020" strokeWidth={0.9} dot={false} isAnimationActive={false} />
        <Line dataKey="smooth" type="linear" stroke="#2020f0" strokeWidth={0.9} dot={false} isAnimationActive={false} />
      </LineChart>
    </div>
  )
}

function Residuals(props: { r: Rect; xMax: number; yMax: number; xTicks: number[]; yTicks: number[]; cases: number[][]; controls: { x: number; y: number }[]; controlShape: any; children?: React.ReactNode }) {
  return (
    <div style={at(props.r)}>
      <ScatterChart width={cw(props.r)} height={ch(props.r)} margin={MARGIN}>
        {frameAxes({
          xDomain: [0, props.xMax], xTicks: props.xTicks, yDomain: [0, props.yMax], yTicks: props.yTicks, xKey: 'x', yKey: 'y',
          xLine: { stroke: '#12e612', strokeWidth: 2 }, yLine: { stroke: '#ee1414', strokeWidth: 2 },
        })}
        {props.children}
        <Scatter data={pairs(props.cases)} shape={caseMark} isAnimationActive={false} />
        <Scatter data={props.controls} shape={props.controlShape} isAnimationActive={false} />
      </ScatterChart>
    </div>
  )
}

const ellipseShape = (p: any) => (
  <ellipse cx={p.x + p.width / 2} cy={p.y + p.height / 2} rx={p.width / 2} ry={p.height / 2} fill="none" stroke="#d070d0" strokeWidth={1} />
)

function SnpGrid() {
  return (
    <div style={at(rE)}>
      <ScatterChart width={cw(rE)} height={ch(rE)} margin={MARGIN}>
        {frameAxes({ xDomain: [0, 220], xTicks: snpTicksE, yDomain: [0, 220], yTicks: snpRowTicks, xKey: 'x', yKey: 'y', reversed: true, tick: tickPlain })}
        {pinkBands.map(([a, b]) => (
          <ReferenceArea key={a} y1={a} y2={b} fill="#f3b3b3" fillOpacity={1} stroke="none" />
        ))}
        {redRows.map((v) => <ReferenceLine key={'r' + v} y={v} stroke="#e03030" strokeWidth={1} />)}
        {cyanRows.map((v) => <ReferenceLine key={'c' + v} y={v} stroke="#5ad2d2" strokeWidth={1.3} />)}
        {darkRows.map((v) => <ReferenceLine key={'d' + v} y={v} stroke="#1f3d3d" strokeWidth={1} />)}
        <Scatter data={pairs(highPts)} shape={highMark} isAnimationActive={false} />
        <Scatter data={pairs(lowPts)} shape={lowMark} isAnimationActive={false} />
      </ScatterChart>
    </div>
  )
}

export default function App() {
  return (
    <div style={{ position: 'absolute', left: 0, top: 0, width: 1220, height: 1050, background: '#fff', overflow: 'hidden' }}>
      <Histogram />
      <Diagram />

      {/* translated data */}
      <TwoLines r={rA1} upper={a1Upper} lower={a1Lower} upperColor="#f02020" yDomain={[-0.5, 1]} yTicks={a1YTicks} />
      <TwoLines r={rA2} upper={a2Upper} lower={a2Lower} upperColor="#2020e8" yDomain={[-0.4, 1]} yTicks={a2YTicks} />
      <Txt x={214} y={413} size={10.7} bold italic>Original translated data</Txt>
      <Txt x={213} y={570} size={10.7} bold italic>Smoothed translated data</Txt>
      <Txt x={18.3} y={472} size={11} bold rot={-90}>Mean value +- one std</Txt>
      <Txt x={18.3} y={633} size={11} bold rot={-90}>Mean value +- one std</Txt>
      <Txt x={212.7} y={553} size={11.5} bold>SNP number</Txt>
      <Txt x={218.3} y={710} size={11.5} bold>SNP number</Txt>

      {/* 219 SNPs */}
      <Residuals r={rB} xMax={3.88} yMax={2.75} xTicks={normTicks} yTicks={resYTicks} cases={casesB} controls={onAxis(controlsB)} controlShape={blueTri} />
      <FrameBox left={474.3} top={436.7} w={114} h={39.3}>
        <InfoRows left={2} top={0} pitch={12.5} labelW={90} valueW={19}
          rows={[{ label: 'Number of Controls:', value: '112' }, { label: 'Number of Cases:', value: '54' }, { label: 'Number of SNPs:', value: '219' }]} />
      </FrameBox>
      <LegendBox left={476.3} top={478.3} w={82} h={32.7} markX={22} textX={40} rows={[9, 24]}
        items={[{ mark: circleIcon, label: 'Cases' }, { mark: blueTriIcon, label: 'Controls' }]} />
      <Txt x={430} y={562} size={12} italic rot={-90}>Norm of the residual</Txt>
      <Txt x={627.5} y={712.7} size={11.5} bold italic>Norm of the projection onto the column space of X</Txt>

      {/* original vs smoothed */}
      <Smoothing />
      <FrameBox left={1082.7} top={430} w={112.6} h={32.7}>
        <svg width={112} height={32} style={{ position: 'absolute', left: 0, top: 0 }}>
          <line x1={4.6} x2={35.6} y1={9.3} y2={9.3} stroke="#f02020" strokeWidth={1} />
          <line x1={4.6} x2={35.6} y1={24.3} y2={24.3} stroke="#2020f0" strokeWidth={1} />
        </svg>
        <div style={{ position: 'absolute', left: 39, top: 3, lineHeight: '12px' }}>Original data</div>
        <div style={{ position: 'absolute', left: 39, top: 18, lineHeight: '12px' }}>Smoothed data</div>
      </FrameBox>
      <Txt x={837.3} y={558.3} size={10.5} bold rot={-90}>
        x<sup style={{ fontSize: 7 }}>(</sup>25), y<sup style={{ fontSize: 7 }}>(</sup>25)
      </Txt>
      <Txt x={1029.3} y={712.3} size={10} bold>SNP number</Txt>

      {/* 40 eigenvalues */}
      <Residuals r={rD} xMax={3.41} yMax={3.72} xTicks={normTicksD} yTicks={resYTicksD} cases={casesD} controls={pairs(controlsD)} controlShape={greenTri}>
        <ReferenceArea x1={clusterCentre[0] - clusterHalf[0]} x2={clusterCentre[0] + clusterHalf[0]}
          y1={clusterCentre[1] - clusterHalf[1]} y2={clusterCentre[1] + clusterHalf[1]} shape={ellipseShape} />
      </Residuals>
      <LegendBox left={58} top={766.7} w={81.7} h={32.6} markX={22.3} textX={40} rows={[10, 25]}
        items={[{ mark: circleIcon, label: 'Cases' }, { mark: greenTriIcon, label: 'Controls' }]} />
      <FrameBox left={59.7} top={805} w={134.3} h={22.7}>
        <div style={{ position: 'absolute', left: 5, top: 5, fontSize: 9.8, lineHeight: '12px' }}>Number of Eigenvalues: 40</div>
      </FrameBox>
      <Txt x={23.3} y={896} size={10} italic rot={-90}>Norm of the residual</Txt>
      <Txt x={216.7} y={1042.7} size={9.5} bold italic>Norm of the projection onto the column space of X</Txt>

      {/* SNP x SNP */}
      <SnpGrid />
      <LegendBox left={550} top={824} w={96.7} h={32} markX={21.7} textX={40} rows={[9.3, 23.7]}
        items={[{ mark: highIcon, label: 'High values' }, { mark: lowIcon, label: 'Low values' }]} />
      <Txt x={463.3} y={885} size={12} italic rot={-90}>SNP number</Txt>
      <Txt x={630.7} y={1043.3} size={12.5} italic>SNP number</Txt>

      {/* extreme SNPs removed */}
      <Residuals r={rF} xMax={3.65} yMax={2.73} xTicks={normTicks} yTicks={resYTicks} cases={casesF} controls={onAxis(controlsF)} controlShape={blueTri} />
      <FrameBox left={882.7} top={761} w={158.3} h={55.7}>
        <InfoRows left={3} top={3.5} pitch={12.2} labelW={92} valueW={19}
          rows={[
            { label: 'Number of Controls:', value: '112' },
            { label: 'Number of Cases:', value: '54' },
            { label: 'Number of SNPs:', value: '205' },
            { label: <>Extreme (S<sub style={{ fontSize: 6 }}>ca</sub>S<sub style={{ fontSize: 6 }}>ca</sub><sup style={{ fontSize: 6 }}>+</sup>) SNPs Removed</> },
          ]} />
      </FrameBox>
      <LegendBox left={880.7} top={827.7} w={82} h={31.6} markX={22.6} textX={40.3} rows={[9, 24]}
        items={[{ mark: circleIcon, label: 'Cases' }, { mark: blueTriIcon, label: 'Controls' }]} />
      <Txt x={840} y={900.7} size={9.5} italic rot={-90}>Norm of the residual</Txt>
      <Txt x={1033} y={1041.7} size={9.5} bold italic>Norm of the projection onto the column space of X</Txt>
    </div>
  )
}
